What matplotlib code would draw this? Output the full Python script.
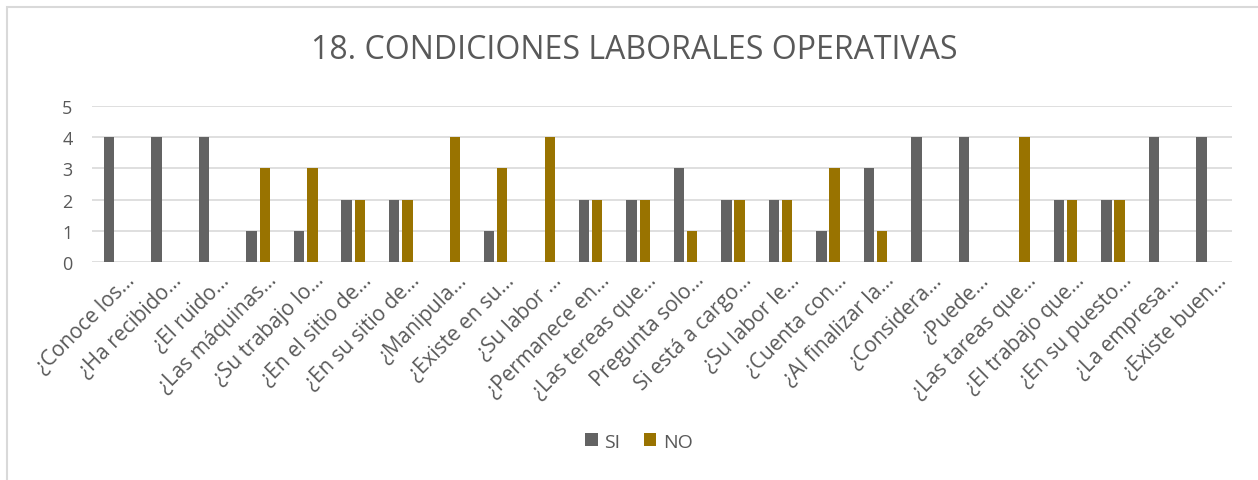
import numpy as np
import matplotlib.pyplot as plt
from matplotlib.patches import Rectangle
from matplotlib.transforms import ScaledTranslation

plt.rcParams['font.family'] = ['Open Sans', 'DejaVu Sans']

preguntas = ['¿Conoce los…', '¿Ha recibido…', '¿El ruido…', '¿Las máquinas…',
             '¿Su trabajo lo…', '¿En el sitio de…', '¿En su sitio de…', '¿Manipula…',
             '¿Existe en su…', '¿Su labor …', '¿Permanece en…', '¿Las tereas que…',
             'Pregunta solo…', 'Si está a cargo…', '¿Su labor le…', '¿Cuenta con…',
             '¿Al finalizar la…', '¿Considera…', '¿Puede…', '¿Las tareas que…',
             '¿El trabajo que…', '¿En su puesto…', '¿La empresa…', '¿Existe buen…']
si = [4, 4, 4, 1, 1, 2, 2, 0, 1, 0, 2, 2, 3, 2, 2, 1, 3, 4, 4, 0, 2, 2, 4, 4]
no = [0, 0, 0, 3, 3, 2, 2, 4, 3, 4, 2, 2, 1, 2, 2, 3, 1, 0, 0, 4, 2, 2, 0, 0]

c_si = '#636363'
c_no = '#997300'
texto = '#595959'

fig = plt.figure(figsize=(12.58, 4.81), dpi=100)
# marco del gráfico
fig.patches.append(Rectangle((0.0056, -0.05), 1.1, 1.033, transform=fig.transFigure,
                             fill=False, edgecolor='#d9d9d9', linewidth=1.5))
ax = fig.add_axes([0.0731, 0.453, 0.906, 0.3245])

x = np.arange(len(preguntas))
w = 0.22
ax.bar(x - 0.14, si, w, color=c_si, label='SI', zorder=3)
ax.bar(x + 0.14, no, w, color=c_no, label='NO', zorder=3)

ax.set_xlim(-0.5, len(preguntas) - 0.5)
ax.set_ylim(0, 5)
ax.set_yticks(range(6))
ax.yaxis.grid(True, color='#d9d9d9', linewidth=1.2, zorder=0)
for s in ax.spines.values():
    s.set_visible(False)
ax.tick_params(length=0, colors=texto, labelsize=13)
ax.tick_params(axis='y', pad=14)
ax.tick_params(axis='x', labelsize=15, pad=5)
ax.set_xticks(x)
ax.set_xticklabels(preguntas, rotation=45, ha='right', rotation_mode='anchor')
desplaza = ScaledTranslation(8 / 100, 0, fig.dpi_scale_trans)
for lab in ax.get_xticklabels():
    lab.set_transform(lab.get_transform() + desplaza)

fig.text(0.504, 0.895, '18. CONDICIONES LABORALES OPERATIVAS', ha='center', va='center',
         fontsize=23, color=texto)
fig.legend(loc='center', bbox_to_anchor=(0.508, 0.08), ncol=2, frameon=False,
           fontsize=14, handlelength=0.65, handleheight=0.65, columnspacing=1.2,
           handletextpad=0.35, labelcolor=texto)

fig.savefig('out.png', dpi=100)
